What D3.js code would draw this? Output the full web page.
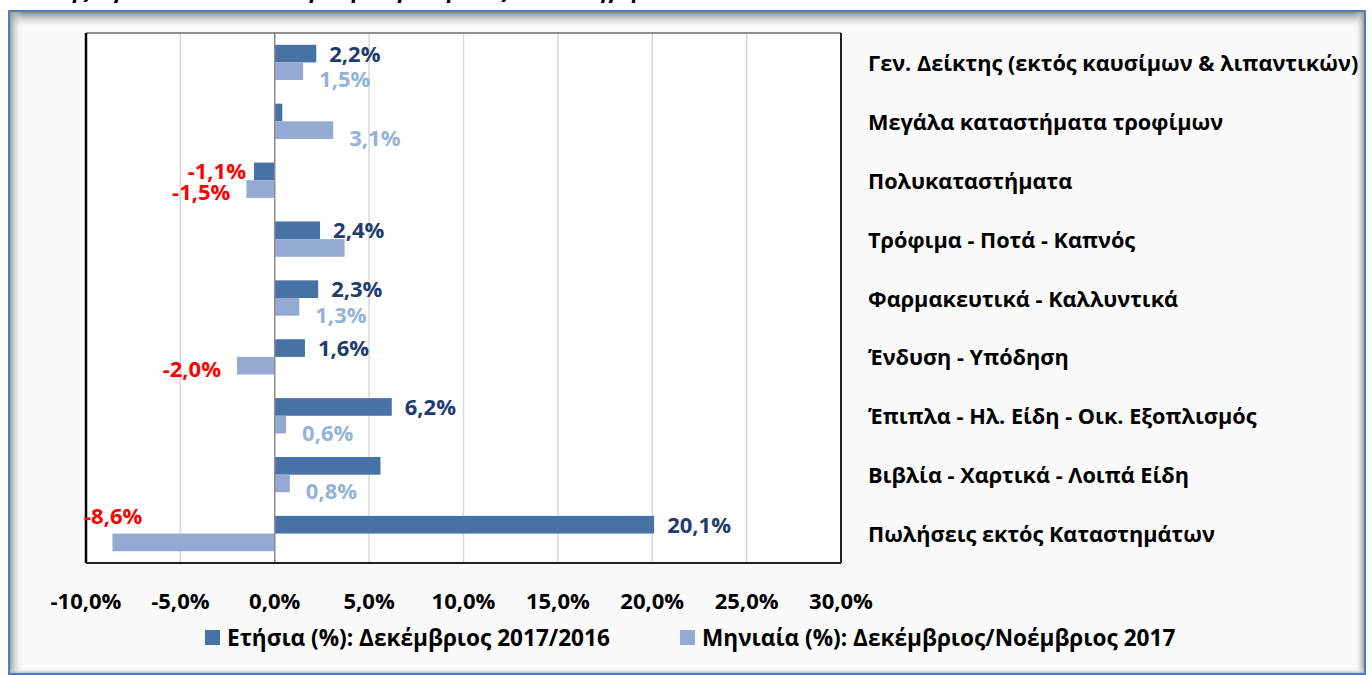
<!DOCTYPE html>
<html>
<head>
<meta charset="utf-8">
<script src="https://cdn.jsdelivr.net/npm/d3@7"></script>
<style>
  html, body { margin: 0; padding: 0; background: #ffffff; }
  svg { display: block; }
  text { font-family: "Open Sans", "Noto Sans", sans-serif; font-weight: bold; }
</style>
</head>
<body>
<svg id="chart" width="1372" height="675"></svg>
<script>
// ---- data ----
const titleText = "Δείκτης Όγκου στο Λιανικό Εμπόριο: μεταβολές ανά κατηγορία";
const categories = [
  "Γεν. Δείκτης (εκτός καυσίμων & λιπαντικών)",
  "Μεγάλα καταστήματα τροφίμων",
  "Πολυκαταστήματα",
  "Τρόφιμα - Ποτά - Καπνός",
  "Φαρμακευτικά - Καλλυντικά",
  "Ένδυση - Υπόδηση",
  "Έπιπλα - Ηλ. Είδη - Οικ. Εξοπλισμός",
  "Βιβλία - Χαρτικά - Λοιπά Είδη",
  "Πωλήσεις εκτός Καταστημάτων"
];
const seriesNames = [
  "Ετήσια (%): Δεκέμβριος 2017/2016",
  "Μηνιαία (%): Δεκέμβριος/Νοέμβριος 2017"
];
const annualValues  = [2.2, 0.4, -1.1, 2.4, 2.3, 1.6, 6.2, 5.6, 20.1];
const monthlyValues = [1.5, 3.1, -1.5, 3.7, 1.3, -2.0, 0.6, 0.8, -8.6];
// which data labels are shown in the original
const annualLabelShown  = [true, false, true, true, true, true, true, false, true];
const monthlyLabelShown = [true, true, true, false, true, true, true, true, true];
const xTicks = [-10, -5, 0, 5, 10, 15, 20, 25, 30];

// ---- layout ----
const svg = d3.select("#chart");
const plot = { left: 86, right: 841, top: 33, bottom: 563 };
const colors = { annual: "#4672a6", monthly: "#95aad2",
                 annualText: "#1f3c6e", monthlyText: "#95b3d9", neg: "#ff0000" };
const locale = d3.formatLocale({ decimal: ",", thousands: ".", grouping: [3], currency: ["", "€"], minus: "-" });
const fmt = v => locale.format(".1f")(v) + "%";
const FS = 22;

// ---- frame ----
const defs = svg.append("defs");
function grad(id, x1, y1, x2, y2, c) {
  const g = defs.append("linearGradient").attr("id", id).attr("x1", x1).attr("y1", y1).attr("x2", x2).attr("y2", y2);
  g.append("stop").attr("offset", "0%").attr("stop-color", c);
  g.append("stop").attr("offset", "100%").attr("stop-color", "#fafafa").attr("stop-opacity", 0);
}
grad("shTop", 0, 0, 0, 1, "#7a7a7a");
grad("shLeft", 0, 0, 1, 0, "#8f8f8f");
grad("shRight", 1, 0, 0, 0, "#8f8f8f");
grad("shBot", 0, 1, 0, 0, "#a8a8a8");

const fr = { x: 9, y: 11, w: 1356, h: 663 };
svg.append("rect").attr("x", fr.x).attr("y", fr.y).attr("width", fr.w).attr("height", fr.h).attr("fill", "#fafafa");
svg.append("rect").attr("x", fr.x).attr("y", fr.y).attr("width", fr.w).attr("height", 18).attr("fill", "url(#shTop)");
svg.append("rect").attr("x", fr.x).attr("y", fr.y).attr("width", 14).attr("height", fr.h).attr("fill", "url(#shLeft)");
svg.append("rect").attr("x", fr.x + fr.w - 10).attr("y", fr.y).attr("width", 10).attr("height", fr.h).attr("fill", "url(#shRight)");
svg.append("rect").attr("x", fr.x).attr("y", fr.y + fr.h - 6).attr("width", fr.w).attr("height", 6).attr("fill", "url(#shBot)");
svg.append("rect").attr("x", fr.x).attr("y", fr.y).attr("width", fr.w).attr("height", fr.h)
  .attr("fill", "none").attr("stroke", "#4f7dba").attr("stroke-width", 2);

// title (mostly cut off at the top in the original)
svg.append("text").attr("x", 10).attr("y", -2).attr("font-size", 22).attr("font-style", "italic")
  .attr("fill", "#000").text(titleText);

// ---- scales ----
const x = d3.scaleLinear().domain([-10, 30]).range([plot.left, plot.right]);
const y = d3.scaleBand().domain(categories).range([plot.top, plot.bottom]).padding(0);
const y1 = d3.scaleBand().domain(["annual", "monthly"]).range([0, y.bandwidth()]).paddingInner(0).paddingOuter(0.668);

// plot background
svg.append("rect").attr("x", plot.left).attr("y", plot.top)
  .attr("width", plot.right - plot.left).attr("height", plot.bottom - plot.top).attr("fill", "#ffffff");

// gridlines
svg.append("g").selectAll("line").data(xTicks.filter(t => t !== 0 && t !== -10 && t !== 30)).join("line")
  .attr("x1", d => x(d)).attr("x2", d => x(d)).attr("y1", plot.top).attr("y2", plot.bottom)
  .attr("stroke", "#d9d9d9").attr("stroke-width", 1.5);

// bars
const rows = categories.map((c, i) => ({ c, i }));
const series = [
  { key: "annual", values: annualValues, shown: annualLabelShown, color: colors.annual, text: colors.annualText },
  { key: "monthly", values: monthlyValues, shown: monthlyLabelShown, color: colors.monthly, text: colors.monthlyText }
];
series.forEach(s => {
  svg.append("g").selectAll("rect").data(rows).join("rect")
    .attr("x", d => x(Math.min(0, s.values[d.i])))
    .attr("width", d => Math.abs(x(s.values[d.i]) - x(0)))
    .attr("y", d => y(d.c) + y1(s.key))
    .attr("height", y1.bandwidth())
    .attr("fill", s.color);
});

// zero line
svg.append("line").attr("x1", x(0)).attr("x2", x(0)).attr("y1", plot.top).attr("y2", plot.bottom)
  .attr("stroke", "#8c8c8c").attr("stroke-width", 1.5);

// plot border
svg.append("line").attr("x1", plot.left).attr("x2", plot.right).attr("y1", plot.top).attr("y2", plot.top)
  .attr("stroke", "#6e6e6e").attr("stroke-width", 1.5);
svg.append("line").attr("x1", plot.left).attr("x2", plot.right).attr("y1", plot.bottom).attr("y2", plot.bottom)
  .attr("stroke", "#222").attr("stroke-width", 2);
svg.append("line").attr("x1", plot.right).attr("x2", plot.right).attr("y1", plot.top).attr("y2", plot.bottom)
  .attr("stroke", "#222").attr("stroke-width", 2);
svg.append("line").attr("x1", plot.left).attr("x2", plot.left).attr("y1", plot.top).attr("y2", plot.bottom)
  .attr("stroke", "#000").attr("stroke-width", 2.5);

// data labels
series.forEach(s => {
  const g = svg.append("g").attr("font-size", FS);
  rows.filter(d => s.shown[d.i]).forEach(d => {
    const v = s.values[d.i];
    const cy = y(d.c) + y1(s.key) + y1.bandwidth() / 2;
    const t = g.append("text").attr("dominant-baseline", "central").text(fmt(v));
    if (v >= 0) {
      t.attr("x", x(v) + (s.key === "monthly" ? 16 : 13))
        .attr("y", cy + (s.key === "monthly" ? 7 : -1))
        .attr("text-anchor", "start").attr("fill", s.text);
    } else {
      t.attr("fill", colors.neg).attr("text-anchor", "end");
      const w = t.node().getComputedTextLength();
      let lx = x(v) - (s.key === "monthly" ? 16 : 8);
      let ly = cy + (s.key === "monthly" ? 2 : -1);
      if (lx - w < plot.left) {
        // not enough room: put it above the bar, at the left edge of the plot
        lx = plot.left + w - 2;
        ly = cy - y1.bandwidth() * 1.55;
      }
      t.attr("x", lx).attr("y", ly);
    }
  });
});

// x axis tick labels
svg.append("g").attr("font-size", FS).selectAll("text").data(xTicks).join("text")
  .attr("x", d => x(d)).attr("y", 600).attr("text-anchor", "middle").attr("dominant-baseline", "central")
  .attr("fill", "#000").text(d => fmt(d));

// category labels (right side)
svg.append("g").attr("font-size", 21.7).selectAll("text").data(categories).join("text")
  .attr("x", 868).attr("y", d => y(d) + y.bandwidth() / 2).attr("dominant-baseline", "central")
  .attr("fill", "#000").text(d => d);

// legend
const legend = svg.append("g").attr("font-size", 22.6);
const legendX = [205, 680];
series.forEach((s, i) => {
  legend.append("rect").attr("x", legendX[i]).attr("y", 630).attr("width", 15).attr("height", 15).attr("fill", s.color);
  legend.append("text").attr("x", legendX[i] + 22).attr("y", 637).attr("dominant-baseline", "central")
    .attr("fill", "#000").text(seriesNames[i]);
});
</script>
</body>
</html>
